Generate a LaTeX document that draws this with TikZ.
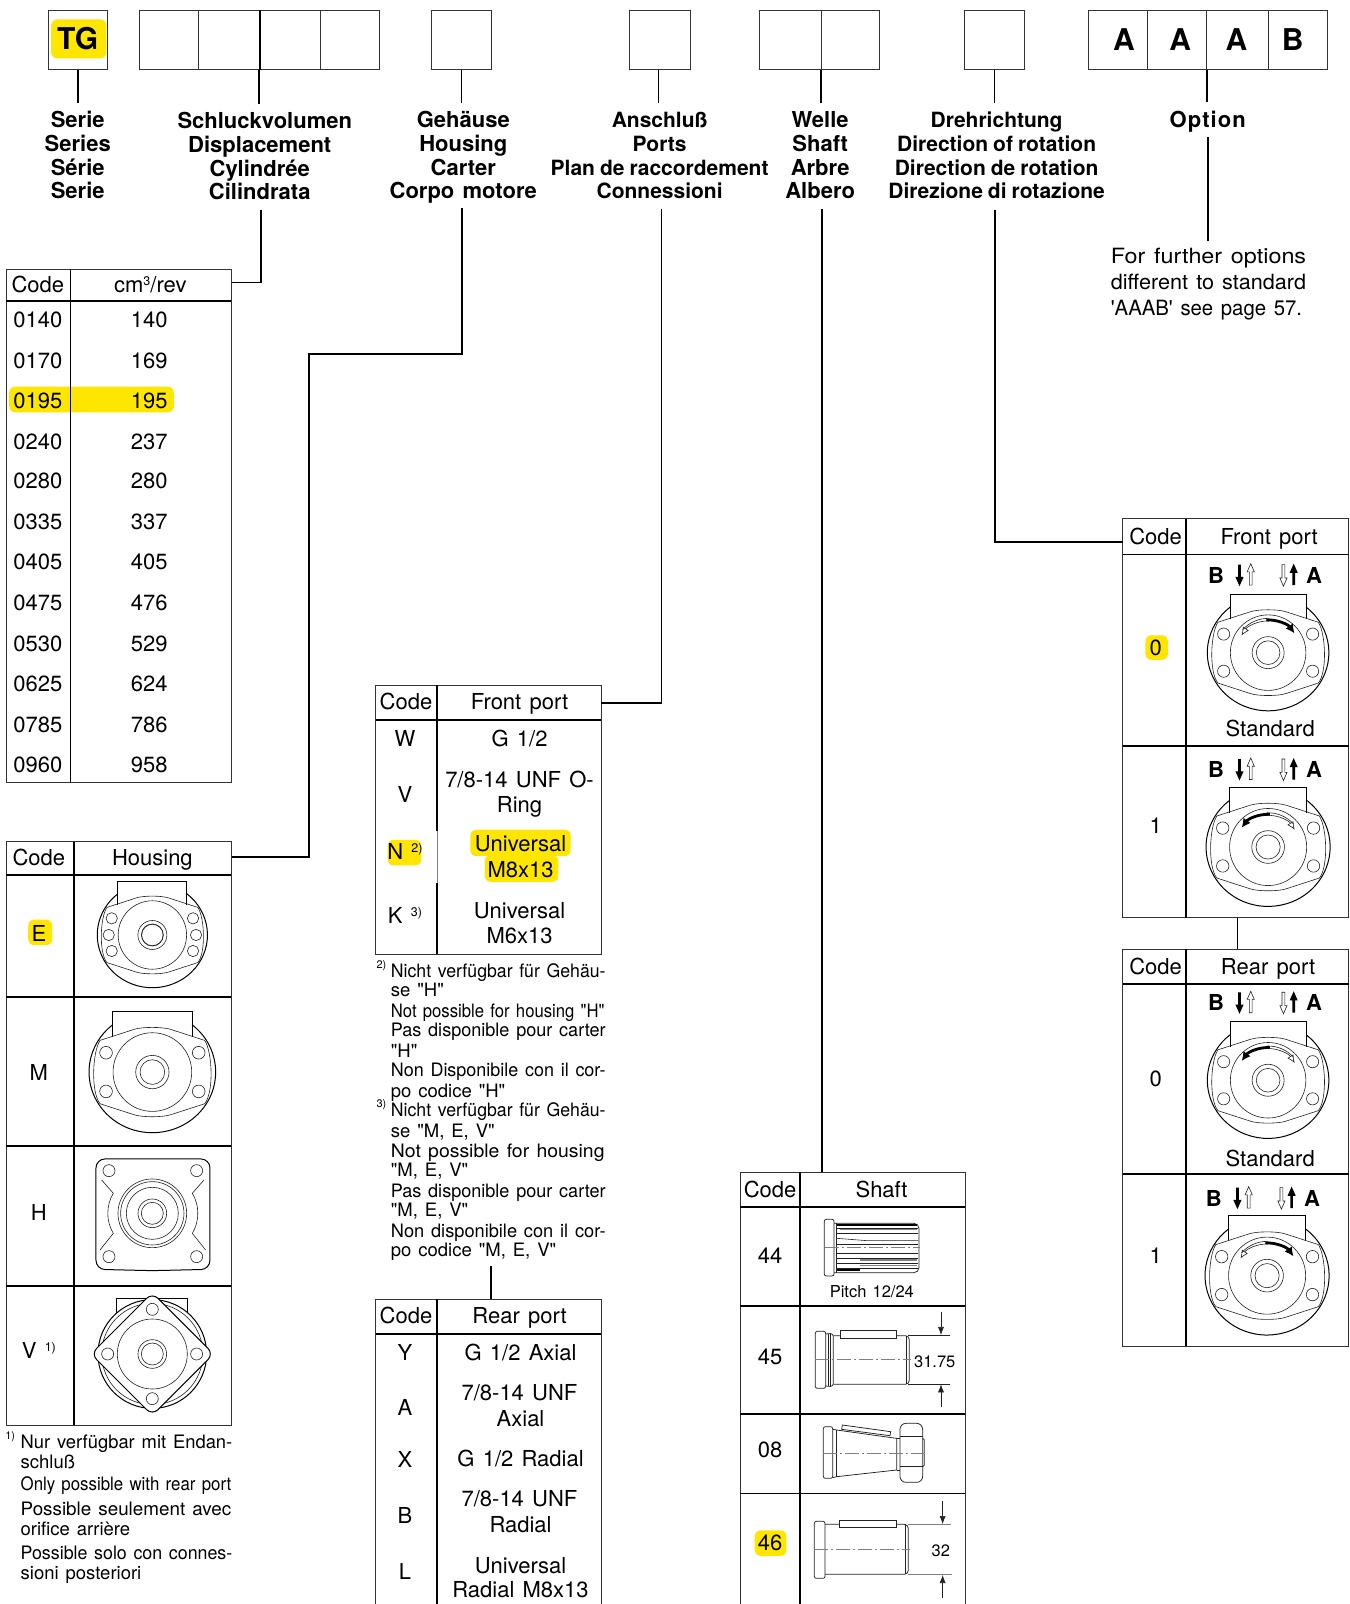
\documentclass[tikz,border=0pt]{standalone}
\usepackage{fontspec}
\usepackage{graphicx}
\usetikzlibrary{arrows.meta,fit}
\newfontfamily\hv[WordSpace=1.35]{TeX Gyre Heros}
\definecolor{hly}{HTML}{FFE600}
\definecolor{framec}{HTML}{333333}
\definecolor{thin}{HTML}{222222}
\newcounter{tn}
\newcommand\fz[1]{\fontsize{#1}{#1}\hv\selectfont}
\newcommand\sups[1]{\raisebox{7pt}{\fontsize{12.5}{12.5}\selectfont #1}}
\newcommand\lbt{\rule{0pt}{21pt}}
\newcommand\lbb{\rule[-6pt]{0pt}{6pt}}
\newcommand\nsp{\hspace{5pt}}
\tikzset{
  txtn/.style={anchor=base,inner sep=0pt,font=\fz{22},text=black},
  txtb/.style={txtn,font=\fz{22}\bfseries},
  notet/.style={anchor=base west,inner sep=0pt,text=black},
  lab/.style={anchor=north,align=center,inner xsep=0pt,inner ysep=3pt,font=\fontsize{22}{23.8}\hv\selectfont\bfseries},
  labn/.style={lab,font=\fontsize{21}{23.8}\hv\selectfont\bfseries},
  frameb/.style={draw=framec,line width=1pt,inner sep=0pt},
  heavy/.style={draw=black,line width=1.8pt},
  conn/.style={draw=black,line width=1.6pt},
  hl/.style={fill=hly,rounded corners=6pt},
  ml/.style={draw=thin,line width=.6pt},
  mo/.style={draw=black,line width=1pt},
  so/.style={draw=thin,line width=.75pt},
  dashc/.style={draw=gray,line width=.5pt,dash pattern=on 14pt off 3pt on 2pt off 3pt},
}
\newcommand\tx[4][txtn]{\stepcounter{tn}\node[#1] (n\arabic{tn}) at (#2,#3+8) {#4};}
\newcommand\fitline[5][18.5]{\stepcounter{tn}\pgfmathsetlengthmacro\ntw{(#4-#3)*1.0227}\node[notet,font=\fz{#1}] (n\arabic{tn}) at (#3,#2+6.5) {\resizebox{\ntw}{\height}{#5}};}
\newcommand\natline[4][18.5]{\stepcounter{tn}\node[notet,font=\fz{#1}] (n\arabic{tn}) at (#3,#2+6.5) {#4};}
\newcommand\mrk[3]{\stepcounter{tn}\node[notet,font=\fz{11}] (n\arabic{tn}) at (#2,#1+1) {#3};}
\newcommand\frameN[5]{\coordinate (#1a) at (#2,#3);\coordinate (#1b) at (#4,#5);\node[fit=(#1a)(#1b),frameb] (#1) {};}
\newcommand\stem[2]{\draw[conn] (#1.south) -- (#1.south |- #2.north);}
\newcommand\mbody[3]{\begin{scope}[shift={(#1,#2)},scale=.3259*#3]
  \draw[mo] (-119,-105) -- (-119,-183) -- (119,-183) -- (119,-105);
  \draw[mo] (119,-142) arc[start angle=-51.2,end angle=231.2,x radius=190,y radius=182];
  \draw[ml] (-157,-95) -- (-55,-128) .. controls (-30,-136) and (30,-136) .. (55,-128) -- (157,-95) .. controls (180,-60) and (185,60) .. (157,95) -- (55,128) .. controls (30,136) and (-30,136) .. (-55,128) -- (-157,95) .. controls (-185,60) and (-180,-60) .. cycle;
  \draw[ml] (0,0) circle[radius=118];
  \draw[ml] (0,0) circle[radius=50];
  \draw[ml] (0,0) circle[radius=37];
\end{scope}}
\newcommand\holesM[3]{\begin{scope}[shift={(#1,#2)},scale=.3259*#3]
  \draw[ml] (-139,-58) circle[radius=19] (139,-58) circle[radius=19] (-139,58) circle[radius=19] (139,58) circle[radius=19];
\end{scope}}
\newcommand\holl[3]{\begin{scope}[shift={(#1,#2)},yscale=#3]
  \draw[ml,fill=white] (0,0)--(3.5,8)--(1.4,8)--(1.4,21)--(-1.4,21)--(-1.4,8)--(-3.5,8)--cycle;
\end{scope}}
\newcommand\blk[3]{\begin{scope}[shift={(#1,#2)},yscale=#3]
  \fill[black] (0,0)--(4,9)--(1.3,9)--(1.3,21)--(-1.3,21)--(-1.3,9)--(-4,9)--cycle;
\end{scope}}
\newcommand\barow[2]{%
  \tx[txtb]{#1-51}{#2}{B}\tx[txtb]{#1+45}{#2}{A}%
  \blk{#1-28}{#2+11}{-1}\holl{#1-17}{#2-11}{1}\holl{#1+15}{#2+11}{-1}\blk{#1+25}{#2-11}{1}}
\newcommand\rota[3]{\begin{scope}[shift={(#1,#2)},xscale=#3]
  \draw[ml,-{Latex[open,length=8pt,width=7pt]}] (-88:31) arc[start angle=-88,end angle=-147,radius=31];
  \draw[ml] (-88:33.5) arc[start angle=-88,end angle=-138,radius=33.5];
  \draw[black,line width=2.8pt,-{Latex[length=9pt,width=9pt]}] (-93:32) arc[start angle=-93,end angle=-36,radius=32];
\end{scope}}
\begin{document}
\begin{tikzpicture}[x=1.0227pt,y=-1.023pt]
\useasboundingbox (0,0) rectangle (1320,1568);
\fill[white] (0,0) rectangle (1320,1568);
%% highlights
\fill[hl] (50,19) rectangle (104,57);
\fill[hl] (9,378) rectangle (170,403);
\fill[hl] (379,821) rectangle (412,846);
\fill[hl] (460,811) rectangle (558,837);
\fill[hl] (474,836) rectangle (546,862);
\fill[hl] (27.6,899) rectangle (51,924);
\fill[hl] (1120,621) rectangle (1142,645);
\fill[hl] (738,1496) rectangle (769,1521);
%% top boxes
\frameN{bTG}{47.5}{10}{105.5}{68}
\frameN{bS}{136}{10}{371}{68}
\frameN{bG}{422}{10}{480.5}{68}
\frameN{bA}{616}{10}{675}{68}
\frameN{bW}{743}{10}{860}{68}
\frameN{bD}{943}{10}{1002}{68}
\frameN{bO}{1064}{10}{1298}{68}
\draw[frameb] (194,10) -- (194,68) (313,10) -- (313,68) (1122,10) -- (1122,68) (1240,10) -- (1240,68);
\draw[conn] (254,10) -- (254,68);
\draw[frameb] (803,10) -- (803,68) (1180,10) -- (1180,68);
\node[txtb,font=\fz{30}\bfseries] (tg) at (76,48) {TG};
\foreach \lx/\lt in {1099/A,1154/A,1209/A,1264/B}{\node[txtb,font=\fz{30}\bfseries] (opt\lx) at (\lx,49) {\lt};}
%% header labels
\node[lab] (lSe) at (76,101) {\lbt Serie\\Series\\Série\\Serie\lbb};
\node[lab] (lSc) at (254,102) {\lbt\hspace{10pt}Schluckvolumen\\Displacement\\Cylindrée\\Cilindrata\lbb};
\node[lab] (lGe) at (453,101) {\lbt Gehäuse\\Housing\\Carter\\Corpo motore\lbb};
\node[labn] (lAn) at (645,101) {\lbt Anschluß\\Ports\\Plan\nsp de\nsp raccordement\\Connessioni\lbb};
\node[lab] (lWe) at (802,101) {\lbt Welle\\Shaft\\Arbre\\Albero\lbb};
\node[labn] (lDr) at (974.5,101) {\lbt Drehrichtung\\Direction\nsp of\nsp rotation\\Direction\nsp de\nsp rotation\\Direzione\nsp di\nsp rotazione\lbb};
\node[lab,font=\fz{22}\bfseries\addfontfeature{LetterSpace=5}] (lOp) at (1181,101) {\lbt Option};
\stem{bTG}{lSe}
\stem{bS}{lSc}
\stem{bG}{lGe}
\coordinate (sa) at (644,68); \draw[conn] (sa) -- (sa |- lAn.north);
\coordinate (sw) at (803,68); \draw[conn] (sw) -- (sw |- lWe.north);
\stem{bD}{lDr}
\coordinate (so1) at (1180.5,68); \draw[conn] (so1) -- (1180.5,100);
%% option note
\coordinate (op1) at (1181,134); \coordinate (op2) at (1181,236);
\draw[conn] (op1) -- (op2);
\fitline[21]{251.5}{1086}{1277}{For further options}
\fitline[21]{276.5}{1086}{1277}{different to standard}
\fitline[21]{301.5}{1086}{1273}{'AAAB' see page 57.}
%% table 1
\frameN{tA}{6}{263}{226}{765}
\draw[heavy] (6,294) -- (226,294) (69,263) -- (69,765);
\tx{37}{278}{Code}\tx{147}{278}{cm\sups{3}/rev}
\foreach \ry/\ca/\cb in {312/0140/140,352/0170/169,391/0195/195,431/0240/237,470/0280/280,510/0335/337,549/0405/405,589/0475/476,629/0530/529,668/0625/624,708/0785/786,747/0960/958}{\tx{37}{\ry}{\ca}\tx{146}{\ry}{\cb}}
\coordinate (c1a) at (255,205); \coordinate (c1b) at (227,276);
\draw[conn] (c1a) |- (c1b);
%% table 2
\frameN{tB}{6}{823}{226}{1393}
\draw[heavy] (6,855) -- (226,855) (6,975) -- (226,975) (6,1120) -- (226,1120) (6,1257) -- (226,1257) (72,823) -- (72,1393);
\tx{38}{838}{Code}\tx{149}{838}{Housing}
\tx{38}{912}{E}\tx{38}{1048}{M}\tx{38}{1185}{H}\tx{38}{1320}{V \sups{1)}}
\coordinate (c2a) at (452,203); \coordinate (c2b) at (302,346); \coordinate (c2c) at (227,838);
\draw[conn] (c2a) |- (c2b) |- (c2c);
\mbody{149}{914}{.87}
\begin{scope}[shift={(149,914)},scale=.3259]
 \foreach \hx/\hy in {-122/-50,-131/0,-122/48,122/-50,131/0,122/48}{\draw[ml] (\hx,\hy) circle[radius=17];}
 \draw[ml] (0,0) circle[radius=33];
\end{scope}
\mbody{149}{1048}{1}
\holesM{149}{1048}{1}
\begin{scope}[shift={(0,1104.6)},scale=.3259]
 \draw[mo,rounded corners=9pt] (288,87) -- (630,87) -- (630,418) -- (457,422) -- (288,418) -- cycle;
 \draw[ml] (305,150) -- (340,190) .. controls (318,225) and (318,275) .. (340,310) -- (300,360);
 \draw[ml] (612,150) -- (577,190) .. controls (599,225) and (599,275) .. (577,310) -- (617,360);
 \foreach \hx/\hy in {327/122,590/122,327/380,590/380}{\draw[ml] (\hx,\hy) circle[radius=18];}
 \foreach \rr in {103,95,78,43,33}{\draw[ml] (457,250) circle[radius=\rr];}
\end{scope}
\begin{scope}[shift={(0,1104.6)},scale=.3259]
 \draw[mo] (350,552) -- (350,505) -- (563,505) -- (563,552);
 \draw[mo,fill=white] (457,672) circle[radius=163];
 \draw[ml] (457,672) circle[radius=152];
 \draw[mo,fill=white,rounded corners=8pt] (457,488) -- (641,672) -- (457,856) -- (273,672) -- cycle;
 \foreach \hx/\hy in {457/538,590/672,457/806,323/672}{\draw[ml] (\hx,\hy) circle[radius=18];}
 \foreach \rr in {105,43,33}{\draw[ml] (457,672) circle[radius=\rr];}
\end{scope}
\mrk{1406}{5}{1)}
\fitline{1409}{20}{227}{Nur verfügbar mit Endan-}
\natline{1429}{20}{schluß}
\fitline{1451}{20}{226}{Only possible with rear port}
\fitline{1475}{20}{226}{Possible seulement avec}
\natline{1495}{20}{orifice arrière}
\fitline{1518}{20}{227}{Possible solo con connes-}
\natline{1538}{20}{sioni posteriori}
%% table 3
\frameN{tC}{367.5}{670}{588}{933}
\draw[heavy] (367.5,704) -- (588,704) (427,670) -- (427,812) (427,863) -- (427,933);
\draw[draw=gray,line width=.8pt] (428,812) -- (428,863);
\tx{397}{686}{Code}\tx{508}{686}{Front port}
\tx{396}{722}{W}\tx{508}{722}{G 1/2}
\tx{396}{776}{V}\tx{508}{762}{7/8-14 UNF O-}\tx{508}{786}{Ring}
\tx{396}{832}{N \sups{2)}}\tx{509}{824}{Universal}\tx{509}{850}{M8x13}
\tx{396}{895}{K \sups{3)}}\tx{508}{890}{Universal}\tx{508}{914}{M6x13}
\coordinate (c3a) at (647,204); \coordinate (c3b) at (588,687);
\draw[conn] (c3a) |- (c3b);
\mrk{946}{368}{2)}
\fitline{949}{382}{592}{Nicht verfügbar für Gehäu-}
\natline{968}{382}{se "H"}
\fitline{988}{382}{591}{Not possible for housing "H"}
\fitline{1007}{382}{592}{Pas disponible pour carter}
\natline{1027}{382}{"H"}
\fitline{1046}{382}{592}{Non Disponibile con il cor-}
\natline{1066}{382}{po codice "H"}
\mrk{1082}{368}{3)}
\fitline{1085}{382}{592}{Nicht verfügbar für Gehäu-}
\natline{1105}{382}{se "M, E, V"}
\fitline{1125}{382}{591}{Not possible for housing}
\natline{1144}{382}{"M, E, V"}
\fitline{1164}{382}{592}{Pas disponible pour carter}
\natline{1183}{382}{"M, E, V"}
\fitline{1203}{382}{592}{Non disponibile con il cor-}
\natline{1222}{382}{po codice "M, E, V"}
\coordinate (c4a) at (480,1238); \coordinate (c4b) at (480,1270);
\draw[conn] (c4a) -- (c4b);
%% table 4
\draw[frameb] (367.5,1568) -- (367.5,1270) -- (588,1270) -- (588,1568);
\draw[heavy] (367.5,1304) -- (588,1304) (427,1270) -- (427,1568);
\tx{397}{1286}{Code}\tx{508}{1286}{Rear port}
\tx{396}{1322}{Y}\tx{509}{1322}{G 1/2 Axial}
\tx{396}{1376}{A}\tx{508}{1361}{7/8-14 UNF}\tx{509}{1386}{Axial}
\tx{396}{1427}{X}\tx{509}{1426}{G 1/2 Radial}
\tx{396}{1481}{B}\tx{508}{1465}{7/8-14 UNF}\tx{509}{1490}{Radial}
\tx{396}{1536}{L}\tx{509}{1530}{Universal}\tx{509}{1554}{Radial M8x13}
%% table 5
\draw[frameb] (724,1568) -- (724,1146) -- (944,1146) -- (944,1568);
\draw[heavy] (724,1180) -- (944,1180) (724,1277) -- (944,1277) (724,1382) -- (944,1382) (724,1460) -- (944,1460) (782,1146) -- (782,1568);
\tx{753}{1163}{Code}\tx{862}{1163}{Shaft}
\tx{753}{1227}{44}\tx{753}{1326}{45}\tx{753}{1417}{08}\tx{753}{1508}{46}
\coordinate (c5a) at (804,204); \coordinate (c5b) at (804,1146);
\draw[conn] (c5a) -- (c5b);
\begin{scope}[shift={(723.6,1143.7)},scale=.3259]
 % 44
 \draw[so,rounded corners=2pt] (253,148) rectangle (282,318);
 \draw[so,rounded corners=5pt] (282,160) -- (537,160) -- (537,308) -- (282,308);
 \draw[ml] (290,160) -- (290,308);
 \foreach \sy in {175,190,222,250,265,295}{\draw[ml] (290,\sy) -- (535,\sy);}
 \draw[ml] (290,205) -- (380,212) -- (535,212);
 \draw[ml] (290,280) -- (535,280);
 \draw[line width=1.4pt] (290,165) -- (530,165) (290,300) -- (360,300);
 \draw[line width=1.2pt,gray] (360,270) -- (530,270) (360,286) -- (530,286) (300,178) -- (530,178);
 \draw[dashc] (255,232) -- (540,232);
 % 45
 \draw[so,rounded corners=2pt] (226,484) rectangle (257,655);
 \draw[so,rounded corners=3pt] (257,492) -- (280,490) -- (280,650) -- (257,648);
 \draw[ml] (265,492) -- (265,648) (272,490) -- (272,650);
 \draw[so,rounded corners=4pt] (280,497) -- (508,497) -- (508,643) -- (280,643);
 \draw[ml] (500,497) -- (500,643);
 \draw[so,fill=white] (302,480) rectangle (470,505);
 \draw[ml] (505,496) -- (630,496) (505,642) -- (630,642);
 \draw[ml,-{Latex[length=8pt,width=6pt]}] (603,425) -- (603,495);
 \draw[ml,-{Latex[length=8pt,width=6pt]}] (603,710) -- (603,643);
 \draw[dashc] (225,568) -- (512,568);
 % 08
 \draw[so,rounded corners=2pt] (250,770) rectangle (278,925);
 \draw[so] (278,778) -- (290,780) -- (470,805) -- (470,900) -- (290,920) -- (278,923);
 \draw[ml] (290,780) -- (290,920);
 \draw[so,fill=white] (305,778) -- (307,765) -- (452,785) -- (450,797) -- cycle;
 \draw[so,rounded corners=6pt] (480,760) rectangle (548,937);
 \draw[ml] (480,800) -- (548,800) (480,890) -- (548,890);
 \draw[ml] (470,805) -- (480,805) (470,900) -- (480,900);
 \draw[so] (548,805) -- (553,810) -- (553,885) -- (548,890);
 \draw[dashc] (250,850) -- (555,850);
 % 46
 \draw[so,rounded corners=2pt] (223,1054) rectangle (255,1225);
 \draw[so,rounded corners=4pt] (255,1063) -- (505,1063) -- (505,1213) -- (255,1213);
 \draw[ml] (497,1063) -- (497,1213);
 \draw[so,fill=white] (298,1050) rectangle (468,1072);
 \draw[draw=gray,line width=.7pt] (505,1063) -- (632,1063) (505,1213) -- (636,1213);
 \draw[ml,-{Latex[length=8pt,width=6pt]}] (608,992) -- (608,1062);
 \draw[ml,-{Latex[length=8pt,width=6pt]}] (608,1283) -- (608,1215);
 \draw[dashc] (223,1138) -- (510,1138);
\end{scope}
\node[txtn,font=\fz{16.5}] (pitch) at (852.5,1268) {Pitch 12/24};
\node[txtn,font=\fz{16.5}] (d1) at (914,1337) {31.75};
\node[txtn,font=\fz{16.5}] (d2) at (920,1522) {32};
%% table 6 front
\frameN{tF}{1098}{507}{1319}{897}
\draw[heavy] (1098,542) -- (1319,542) (1098,729) -- (1319,729) (1160,507) -- (1160,897);
\tx{1130}{524}{Code}\tx{1241}{524}{Front port}
\tx{1130}{633}{0}\tx{1130}{807}{1}\tx{1242}{712}{Standard}
\barow{1240}{562}\barow{1240}{752}
\mbody{1240}{638}{.96}\holesM{1240}{638}{.96}\rota{1240}{638}{1}
\mbody{1240}{828}{.98}\holesM{1240}{828}{.98}\rota{1240}{828}{-1}
\coordinate (c6a) at (973,205); \coordinate (c6b) at (1098,530);
\draw[conn] (c6a) |- (c6b);
\coordinate (c7a) at (1210,897); \coordinate (c7b) at (1210,928);
\draw[conn] (c7a) -- (c7b);
%% table 7 rear
\frameN{tR}{1098}{928}{1319}{1316}
\draw[heavy] (1098,962) -- (1319,962) (1098,1148) -- (1319,1148) (1160,928) -- (1160,1316);
\tx{1130}{945}{Code}\tx{1240}{945}{Rear port}
\tx{1130}{1054}{0}\tx{1130}{1227}{1}\tx{1242}{1132}{Standard}
\barow{1240}{980}\barow{1238}{1171}
\mbody{1240}{1056}{.96}\holesM{1240}{1056}{.96}\rota{1240}{1056}{-1}
\mbody{1239}{1247}{.98}\holesM{1239}{1247}{.98}\rota{1239}{1247}{1}
\end{tikzpicture}
\end{document}
